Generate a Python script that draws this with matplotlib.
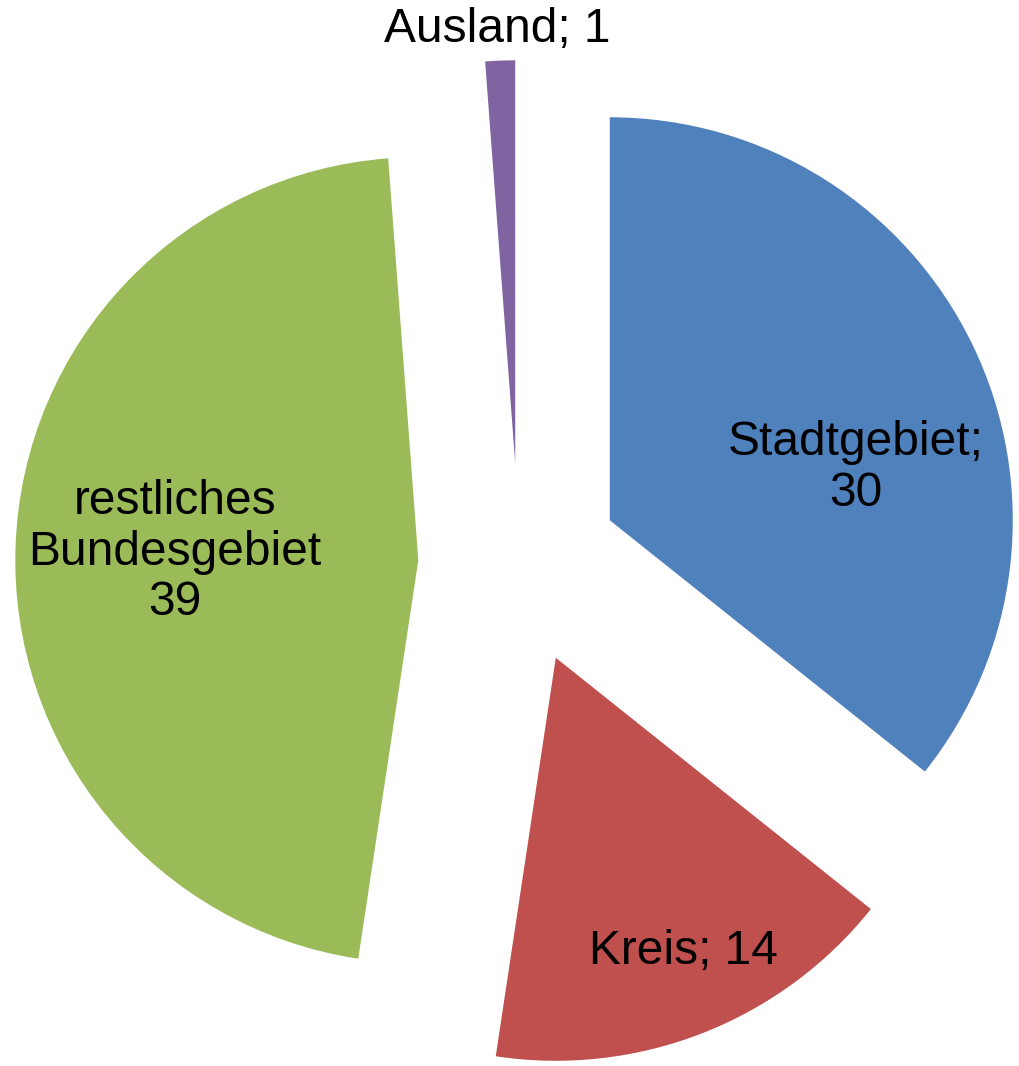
import matplotlib.pyplot as plt

# data
categories = ['Stadtgebiet', 'Kreis', 'restliches\nBundesgebiet', 'Ausland']
values = [30, 14, 39, 1]
label_texts = ['Stadtgebiet;\n30', 'Kreis; 14', 'restliches\nBundesgebiet\n39', 'Ausland; 1']
colors = ['#4F81BD', '#C0504D', '#9BBB59', '#8064A2']

W, H = 1019, 1066
R_PX = 403.0          # pie radius in pixels
CX, CY = 519.0, 564.0  # pie centre in pixels (from top-left)

# label centres in pixels
label_px = [(856, 468), (683, 952), (175, 552), (497, 30)]


def px_to_data(x, y):
    return (x - CX) / R_PX, (CY - y) / R_PX


fig = plt.figure(figsize=(W / 100, H / 100), dpi=100)
ax = fig.add_axes([0, 0, 1, 1])

ax.pie(values, colors=colors, startangle=90, counterclock=False,
       explode=[0.25] * len(values), radius=1.0,
       wedgeprops={'linewidth': 0})

ax.set_xlim(-CX / R_PX, (W - CX) / R_PX)
ax.set_ylim(-(H - CY) / R_PX, CY / R_PX)
ax.set_aspect('auto')
ax.axis('off')

for txt, (px, py) in zip(label_texts, label_px):
    x, y = px_to_data(px, py)
    ax.text(x, y, txt, ha='center', va='center', fontsize=34.5,
            family='Liberation Sans', color='black', linespacing=1.15)

fig.savefig('out.png', dpi=100)
